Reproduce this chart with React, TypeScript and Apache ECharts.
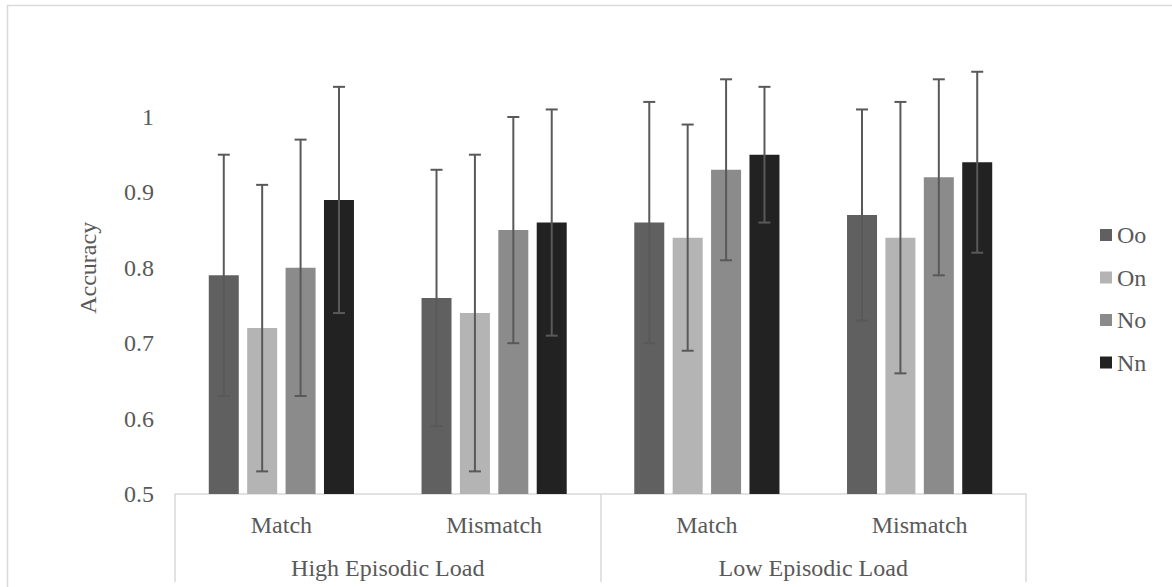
import React, { useEffect, useRef } from "react";
import * as echarts from "echarts";

const categories = ["Match", "Mismatch", "Match", "Mismatch"];
const groups = ["High Episodic Load", "Low Episodic Load"];
const seriesNames = ["Oo", "On", "No", "Nn"];
const colors = ["#606060", "#b4b4b4", "#8b8b8b", "#222222"];

const ooValues = [0.79, 0.76, 0.86, 0.87];
const onValues = [0.72, 0.74, 0.84, 0.84];
const noValues = [0.8, 0.85, 0.93, 0.92];
const nnValues = [0.89, 0.86, 0.95, 0.94];

const ooLow = [0.63, 0.59, 0.7, 0.73];
const ooHigh = [0.95, 0.93, 1.02, 1.01];
const onLow = [0.53, 0.53, 0.69, 0.66];
const onHigh = [0.91, 0.95, 0.99, 1.02];
const noLow = [0.63, 0.7, 0.81, 0.79];
const noHigh = [0.97, 1.0, 1.05, 1.05];
const nnLow = [0.74, 0.71, 0.86, 0.82];
const nnHigh = [1.04, 1.01, 1.04, 1.06];

const yTicks = [0.5, 0.6, 0.7, 0.8, 0.9, 1];

const values = [ooValues, onValues, noValues, nnValues];
const lows = [ooLow, onLow, noLow, nnLow];
const highs = [ooHigh, onHigh, noHigh, nnHigh];

const FONT = "'Liberation Serif', 'Times New Roman', serif";
const TEXT = "#595959";
const LINE = "#d9d9d9";
const BAR_W = 30;
const BAR_GAP = 0.28;
const FS = 24;

export default function App() {
  const ref = useRef<HTMLDivElement>(null);

  useEffect(() => {
    if (!ref.current) return;
    const chart = echarts.init(ref.current, undefined, { renderer: "svg" });
    const pitch = BAR_W * (1 + BAR_GAP);

    const barSeries = seriesNames.map((name, i) => ({
      name,
      type: "bar",
      data: values[i],
      barWidth: BAR_W,
      barGap: BAR_GAP * 100 + "%",
      itemStyle: { color: colors[i] },
      xAxisIndex: 0,
      yAxisIndex: 0,
      z: 2,
    }));

    const errSeries = seriesNames.map((name, i) => ({
      name: "err-" + name,
      type: "custom",
      xAxisIndex: 0,
      yAxisIndex: 0,
      z: 3,
      data: categories.map((_, j) => [j, lows[i][j], highs[i][j]]),
      encode: { x: 0, y: [1, 2] },
      renderItem: (params: any, api: any) => {
        const idx = api.value(0);
        const base = api.coord([idx, api.value(1)]);
        const top = api.coord([idx, api.value(2)]);
        const x = base[0] + (i - 1.5) * pitch;
        const yl = base[1];
        const yh = top[1];
        const half = 6;
        const style = { stroke: "#595959", lineWidth: 2 };
        return {
          type: "group",
          children: [
            { type: "line", shape: { x1: x, y1: yl, x2: x, y2: yh }, style },
            { type: "line", shape: { x1: x - half, y1: yh, x2: x + half, y2: yh }, style },
            { type: "line", shape: { x1: x - half, y1: yl, x2: x + half, y2: yl }, style },
          ],
        };
      },
    }));

    chart.setOption({
      animation: false,
      backgroundColor: "#ffffff",
      textStyle: { fontFamily: FONT },
      grid: { left: 175, right: 146, top: 41.6, bottom: 93, containLabel: false },
      legend: {
        data: seriesNames,
        orient: "vertical",
        left: 1100,
        top: 223,
        padding: 0,
        icon: "rect",
        itemWidth: 12,
        itemHeight: 12,
        itemGap: 18.5,
        textStyle: { fontFamily: FONT, fontSize: FS, color: TEXT, lineHeight: 24 },
      },
      xAxis: [
        {
          type: "category",
          data: categories,
          position: "bottom",
          axisLine: { show: true, lineStyle: { color: LINE, width: 1.5 } },
          axisTick: { show: false },
          axisLabel: { fontFamily: FONT, fontSize: FS, color: TEXT, margin: 19 },
          splitLine: { show: false },
        },
        {
          type: "category",
          data: groups,
          position: "bottom",
          gridIndex: 0,
          axisLine: { show: false },
          axisTick: { show: true, length: 88, alignWithLabel: false, lineStyle: { color: LINE, width: 1.5 } },
          axisLabel: { fontFamily: FONT, fontSize: FS, color: TEXT, margin: 62 },
          splitLine: { show: false },
        },
      ],
      yAxis: {
        type: "value",
        min: yTicks[0],
        max: 1.1,
        interval: 0.1,
        name: "Accuracy",
        nameLocation: "middle",
        nameGap: 75,
        nameTextStyle: { fontFamily: FONT, fontSize: FS, color: TEXT },
        axisLine: { show: false },
        axisTick: { show: false },
        splitLine: { show: false },
        axisLabel: {
          fontFamily: FONT,
          fontSize: FS,
          color: TEXT,
          margin: 21,
          showMaxLabel: false,
          formatter: (v: number) => {
            const r = Math.round(v * 10) / 10;
            return yTicks.indexOf(r) >= 0 ? String(r) : "";
          },
        },
      },
      graphic: [
        {
          type: "rect",
          shape: { x: 7.5, y: 5.5, width: 1200, height: 620 },
          style: { fill: "none", stroke: LINE, lineWidth: 1.5 },
          silent: true,
          z: 0,
        },
      ],
      series: [...barSeries, ...errSeries],
    });

    return () => {
      chart.dispose();
    };
  }, []);

  return (
    <div
      ref={ref}
      style={{ position: "fixed", left: 0, top: 0, width: 1172, height: 587, background: "#fff" }}
    />
  );
}
